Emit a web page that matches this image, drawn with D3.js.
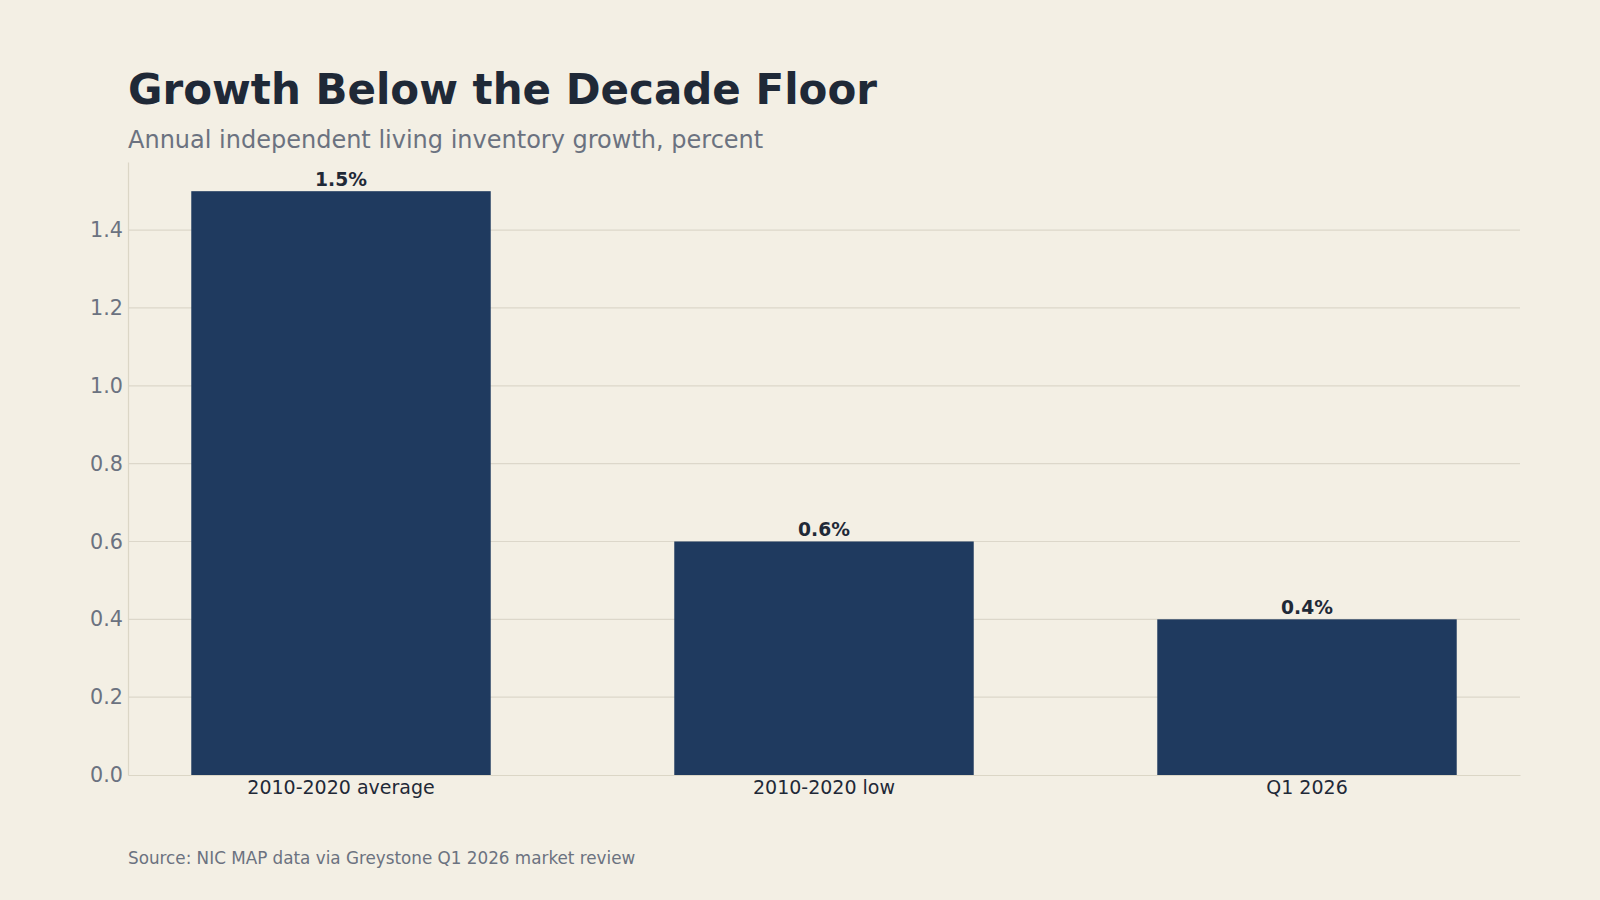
<!DOCTYPE html>
<html>
<head>
<meta charset="utf-8">
<script src="https://cdn.jsdelivr.net/npm/d3@7"></script>
<style>
  html, body { margin: 0; padding: 0; background: #f3efe4; }
  svg { display: block; font-family: "DejaVu Sans", sans-serif; }
</style>
</head>
<body>
<div id="chart"></div>
<script>
// data
const categories = ['2010-2020 average', '2010-2020 low', 'Q1 2026'];
const growth = [1.5, 0.6, 0.4];
const barLabels = ['1.5%', '0.6%', '0.4%'];
const yTicks = [0.0, 0.2, 0.4, 0.6, 0.8, 1.0, 1.2, 1.4];

const width = 1600;
const height = 900;
const margin = { top: 162, right: 80, bottom: 125, left: 128 };

const svg = d3
  .select('#chart')
  .append('svg')
  .attr('width', width)
  .attr('height', height);

svg.append('rect').attr('width', width).attr('height', height).attr('fill', '#f3efe4');

const x = d3
  .scaleBand()
  .domain(categories)
  .range([margin.left, width - margin.right])
  .paddingInner(0.38)
  .paddingOuter(0.131);

const y = d3
  .scaleLinear()
  .domain([0, d3.max(growth) * 1.05])
  .range([height - margin.bottom, margin.top]);

// gridlines
svg
  .append('g')
  .selectAll('line')
  .data(yTicks.filter(d => d > 0))
  .join('line')
  .attr('x1', margin.left)
  .attr('x2', width - margin.right)
  .attr('y1', d => y(d))
  .attr('y2', d => y(d))
  .attr('stroke', '#dcd7ca')
  .attr('stroke-width', 1.2);

// bars
svg
  .append('g')
  .selectAll('rect')
  .data(growth)
  .join('rect')
  .attr('x', (d, i) => x(categories[i]))
  .attr('y', d => y(d))
  .attr('width', x.bandwidth())
  .attr('height', d => y(0) - y(d))
  .attr('fill', '#1f3a5f');

// bar value labels
svg
  .append('g')
  .selectAll('text')
  .data(growth)
  .join('text')
  .attr('x', (d, i) => x(categories[i]) + x.bandwidth() / 2)
  .attr('y', d => y(d) - 5)
  .attr('text-anchor', 'middle')
  .attr('font-size', 18.7)
  .attr('font-weight', 'bold')
  .attr('fill', '#1f2937')
  .text((d, i) => barLabels[i]);

// y axis
const yAxis = svg
  .append('g')
  .attr('transform', `translate(${margin.left},0)`)
  .call(d3.axisLeft(y).tickValues(yTicks).tickFormat(d3.format('.1f')).tickSize(0).tickPadding(5));
yAxis.select('.domain').attr('stroke', '#dbd6c6').attr('stroke-width', 1.2);
yAxis.selectAll('text').attr('font-size', 20.7).attr('fill', '#6b7280').attr('font-family', 'DejaVu Sans');

// x axis
const xAxis = svg
  .append('g')
  .attr('transform', `translate(0,${height - margin.bottom})`)
  .call(d3.axisBottom(x).tickSize(0).tickPadding(6));
xAxis.select('.domain').attr('stroke', '#dbd6c6').attr('stroke-width', 1.2);
xAxis.selectAll('text').attr('font-size', 19).attr('fill', '#1f2937').attr('font-family', 'DejaVu Sans');

// titles
svg
  .append('text')
  .attr('x', 128)
  .attr('y', 104)
  .attr('font-size', 42)
  .attr('font-weight', 'bold')
  .attr('fill', '#1f2937')
  .text('Growth Below the Decade Floor');

svg
  .append('text')
  .attr('x', 128)
  .attr('y', 148)
  .attr('font-size', 24)
  .attr('fill', '#6b7280')
  .text('Annual independent living inventory growth, percent');

svg
  .append('text')
  .attr('x', 128)
  .attr('y', 864)
  .attr('font-size', 16.8)
  .attr('fill', '#6b7280')
  .text('Source: NIC MAP data via Greystone Q1 2026 market review');
</script>
</body>
</html>
